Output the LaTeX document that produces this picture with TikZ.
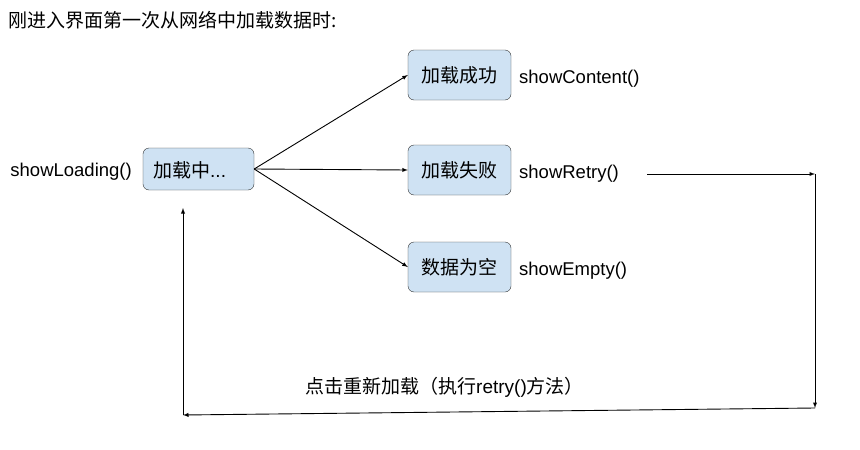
\documentclass[tikz,border=0pt]{standalone}
\usepackage{fontspec}
\setmainfont{Liberation Sans}
\newfontfamily\cjk{Noto Sans CJK SC}
\usetikzlibrary{positioning}
\definecolor{boxblue}{HTML}{CFE2F3}
\begin{document}
\begin{tikzpicture}[x = 1pt, y = -1pt,
  state/.style = {draw=black!80, fill=boxblue, rounded corners=6pt,
    minimum width=103pt, minimum height=50pt, inner sep=0pt,
    font=\cjk\fontsize{19}{21}\selectfont},
  call/.style = {anchor=west, inner sep=0pt, font=\fontsize{18.5}{20}\selectfont},
  flow/.style = {->, >=latex, line width=0.9pt}]

  \useasboundingbox (0,0) rectangle (860,450);

  % heading
  \node[anchor=west, inner sep=0pt, font=\cjk\fontsize{19}{21}\selectfont]
    (title) at (8,20) {刚进入界面第一次从网络中加载数据时:};

  % states
  \node[state, minimum width=111pt, minimum height=42pt] (loading) at (198.5,169) {};
  \node[anchor=west, inner sep=0pt, font=\fontsize{19}{21}\selectfont]
    (loadingText) at (153,170) {{\cjk 加载中}...};
  \node[state] (success) at (459.5,75) {加载成功};
  \node[state] (fail) at (459.5,170) {加载失败};
  \node[state] (empty) at (459.5,267) {数据为空};

  % method calls
  \node[call, anchor=east] (callLoading) at (132,172) {showLoading()};
  \node[call] (callContent) at (519,79) {showContent()};
  \node[call] (callRetry) at (519,174) {showRetry()};
  \node[call] (callEmpty) at (519,271) {showEmpty()};

  % transitions
  \foreach \target in {success, fail, empty}
  \draw[flow] (loading.east) -- (\target.west);

  % retry loop
  \coordinate (retryStart) at (647,174);
  \coordinate (cornerA) at (815,174);
  \coordinate (cornerB) at (815,408);
  \coordinate (cornerC) at (183,415);
  \coordinate (retryEnd) at (183,208);
  \draw[flow] (retryStart) -- (cornerA);
  \draw[flow] (cornerA) -- (cornerB);
  \draw[flow] (cornerB) -- (cornerC);
  \draw[flow] (cornerC) -- (retryEnd);

  \node[anchor=west, inner sep=0pt, font=\fontsize{19}{21}\selectfont]
    (retryLabel) at (305,387) {{\cjk 点击重新加载（执行}retry(){\cjk 方法）}};

\end{tikzpicture}
\end{document}
